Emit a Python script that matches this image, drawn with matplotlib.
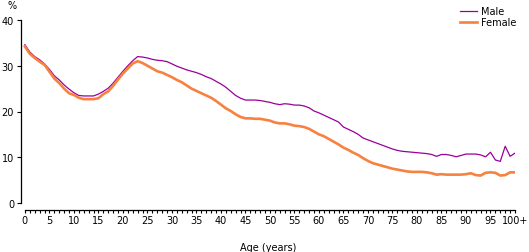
import matplotlib
matplotlib.use("Agg")
import matplotlib.pyplot as plt
from matplotlib.ticker import MultipleLocator, FixedLocator

plt.rcParams['font.family'] = ['DejaVu Sans']

# proportion by single year of age, 0 to 100+
ages = list(range(0, 101))
male = [34.6, 33.0, 32.0, 31.3, 30.4, 29.2, 27.8, 26.9, 25.8, 24.9,
        24.1, 23.5, 23.4, 23.4, 23.4, 23.8, 24.4, 25.1, 26.2, 27.5,
        28.8, 30.0, 31.1, 32.0, 31.9, 31.7, 31.4, 31.2, 31.1, 30.9,
        30.4, 29.9, 29.5, 29.1, 28.8, 28.5, 28.1, 27.6, 27.2, 26.6,
        26.0, 25.3, 24.4, 23.5, 22.9, 22.5, 22.5, 22.5, 22.4, 22.2,
        22.0, 21.7, 21.5, 21.7, 21.6, 21.4, 21.4, 21.2, 20.8, 20.1,
        19.7, 19.2, 18.7, 18.2, 17.7, 16.6, 16.1, 15.6, 15.0, 14.2,
        13.8, 13.4, 13.0, 12.6, 12.2, 11.8, 11.5, 11.3, 11.2, 11.1,
        11.0, 10.9, 10.8, 10.6, 10.2, 10.6, 10.6, 10.4, 10.1, 10.4,
        10.7, 10.7, 10.7, 10.5, 10.1, 11.1, 9.4, 9.1, 12.4, 10.2,
        10.9]
female = [34.2, 32.6, 31.7, 30.9, 30.2, 28.7, 27.2, 26.2, 25.0, 24.0,
          23.6, 23.0, 22.7, 22.7, 22.7, 22.9, 23.8, 24.4, 25.6, 27.0,
          28.3, 29.4, 30.5, 31.0, 30.6, 30.0, 29.4, 28.8, 28.5, 28.0,
          27.5, 26.9, 26.4, 25.7, 25.0, 24.5, 24.0, 23.5, 23.0, 22.3,
          21.5, 20.7, 20.1, 19.4, 18.8, 18.5, 18.5, 18.4, 18.4, 18.2,
          18.0, 17.6, 17.4, 17.4, 17.2, 16.9, 16.8, 16.6, 16.2, 15.6,
          15.0, 14.6, 14.0, 13.4, 12.8, 12.1, 11.6, 11.0, 10.5, 9.8,
          9.2, 8.7, 8.4, 8.1, 7.8, 7.5, 7.3, 7.1, 6.9, 6.8,
          6.8, 6.8, 6.7, 6.5, 6.2, 6.3, 6.2, 6.2, 6.2, 6.2,
          6.3, 6.5, 6.1, 6.0, 6.6, 6.7, 6.6, 6.0, 6.1, 6.7,
          6.7]
xtick_pos = list(range(0, 101, 5))
xtick_labels = [str(a) for a in range(0, 100, 5)] + ['100+']
yticks = [0, 10, 20, 30, 40]

W, H = 529, 253
fig = plt.figure(figsize=(W / 100, H / 100), dpi=100)
ax = fig.add_axes([21 / W, 1 - 204 / H, (515 - 21) / W, 183 / H])

ax.plot(ages, male, color='#990099', lw=0.9, label='Male')
ax.plot(ages, female, color='#F7813E', lw=1.9, label='Female')

ax.set_xlim(-0.8, 100)
ax.set_ylim(0, 40)

for s in ['top', 'right']:
    ax.spines[s].set_visible(False)
ax.spines['bottom'].set_position(('outward', 5))
ax.spines['bottom'].set_bounds(0, 100)
ax.spines['left'].set_linewidth(0.9)
ax.spines['bottom'].set_linewidth(0.9)

ax.xaxis.set_major_locator(FixedLocator(xtick_pos))
ax.set_xticklabels(xtick_labels)
ax.xaxis.set_minor_locator(MultipleLocator(1))
ax.set_yticks(yticks)
ax.tick_params(axis='both', which='both', direction='out', length=2.5,
               width=0.8, labelsize=7, pad=1.5)
ax.tick_params(axis='y', length=3, pad=2)

ax.set_xlabel('Age (years)', fontsize=7, labelpad=12)
fig.text(12 / W, 1 - 6 / H, '%', fontsize=7, ha='center', va='center')

ax.legend(loc='upper right', bbox_to_anchor=(516 / W, 1 - 7 / H),
          bbox_transform=fig.transFigure, frameon=False, fontsize=7,
          handlelength=1.7, handletextpad=0.4, labelspacing=0.15,
          borderaxespad=0, borderpad=0)

fig.savefig('out.png', dpi=100)
